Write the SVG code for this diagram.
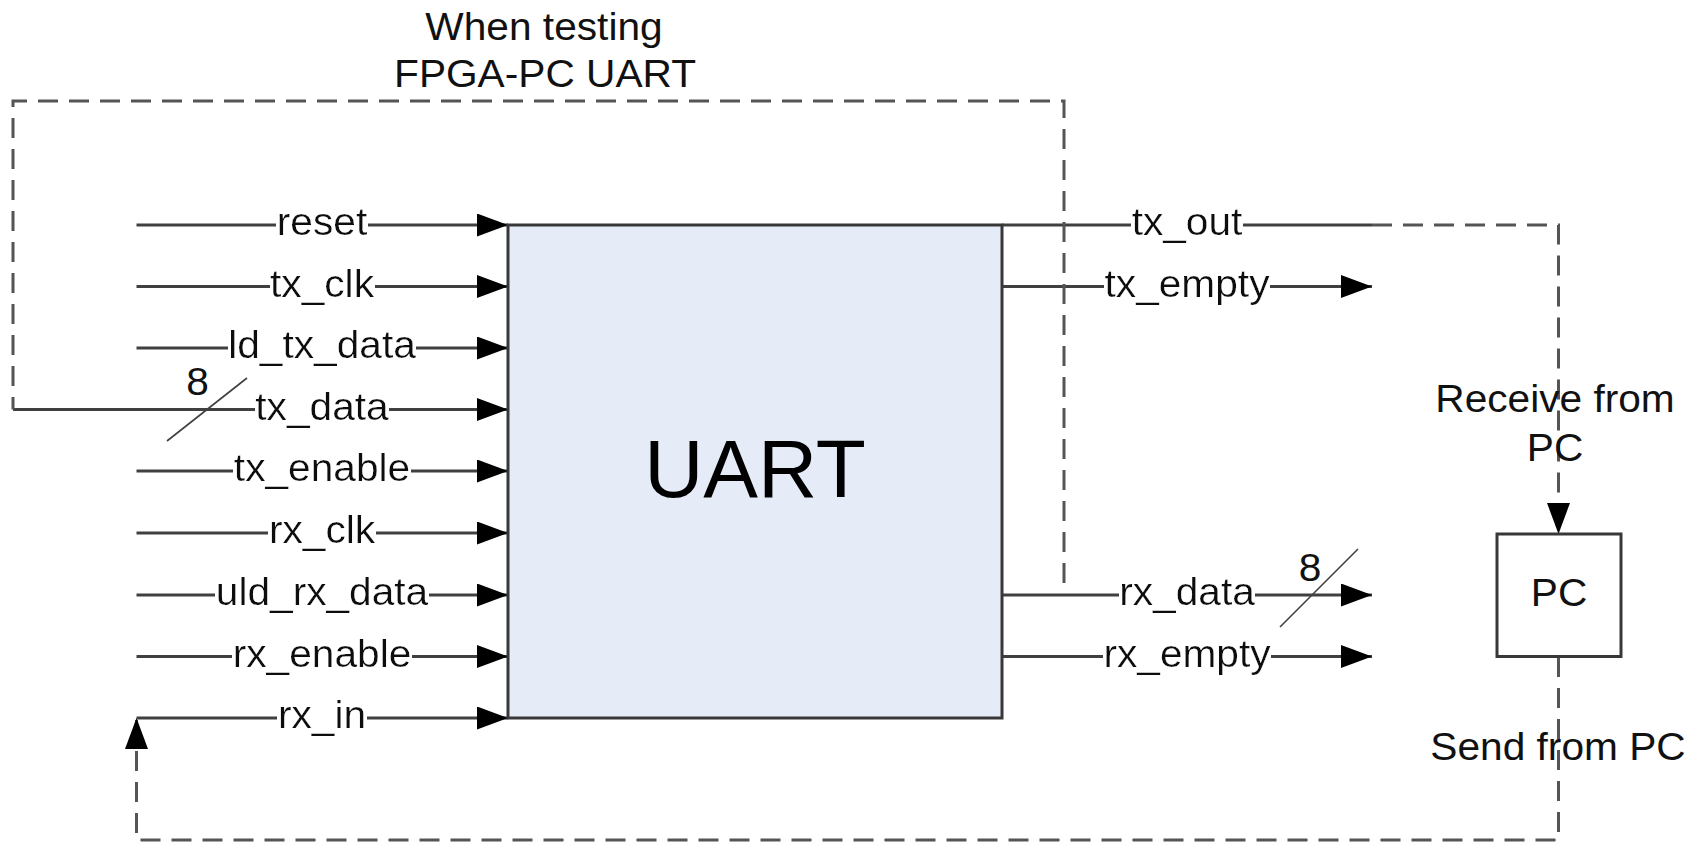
<svg xmlns="http://www.w3.org/2000/svg" width="1703" height="842" viewBox="0 0 1703 842">
  <style>
    .wire { fill: none; stroke: #404040; stroke-width: 3; }
    .dash { fill: none; stroke: #555555; stroke-width: 3; stroke-dasharray: 20 11; }
    .slash { fill: none; stroke: #404040; stroke-width: 1.6; }
    .box { stroke: #383838; stroke-width: 3; }
    .t { font-family: "Liberation Sans", Arial, sans-serif; font-size: 38px; fill: #111111; text-anchor: middle; }
    .big { font-family: "Liberation Sans", Arial, sans-serif; font-size: 82px; fill: #000000; text-anchor: middle; }
    .ko { filter: url(#ko); }
  </style>
  <defs>
    <marker id="arr" viewBox="0 0 31 23" refX="31" refY="11.5" markerWidth="31" markerHeight="23" markerUnits="userSpaceOnUse" orient="auto">
      <path d="M0,0 L31,11.5 L0,23 Z" fill="#000000"/>
    </marker>
    <filter id="ko" x="0" y="0" width="1" height="1">
      <feFlood flood-color="#ffffff" result="bg"/>
      <feComposite in="SourceGraphic" in2="bg" operator="over"/>
    </filter>
  </defs>
  <rect width="1703" height="842" fill="#ffffff"/>

  <g id="connectors">
    <!-- inputs -->
    <line class="wire" x1="136.5" y1="225" x2="508" y2="225" marker-end="url(#arr)"/>
    <line class="wire" x1="136.5" y1="286.5" x2="508" y2="286.5" marker-end="url(#arr)"/>
    <line class="wire" x1="136.5" y1="348" x2="508" y2="348" marker-end="url(#arr)"/>
    <line class="wire" x1="13" y1="409.5" x2="508" y2="409.5" marker-end="url(#arr)"/>
    <line class="wire" x1="136.5" y1="471" x2="508" y2="471" marker-end="url(#arr)"/>
    <line class="wire" x1="136.5" y1="533" x2="508" y2="533" marker-end="url(#arr)"/>
    <line class="wire" x1="136.5" y1="595" x2="508" y2="595" marker-end="url(#arr)"/>
    <line class="wire" x1="136.5" y1="656.5" x2="508" y2="656.5" marker-end="url(#arr)"/>
    <line class="wire" x1="136.5" y1="718" x2="508" y2="718" marker-end="url(#arr)"/>
    <!-- outputs -->
    <line class="wire" x1="1002" y1="225" x2="1372" y2="225"/>
    <line class="wire" x1="1002" y1="286.5" x2="1372" y2="286.5" marker-end="url(#arr)"/>
    <line class="wire" x1="1002" y1="595" x2="1372" y2="595" marker-end="url(#arr)"/>
    <line class="wire" x1="1002" y1="656.5" x2="1372" y2="656.5" marker-end="url(#arr)"/>
    <!-- bus slashes -->
    <line class="slash" x1="167" y1="441" x2="247" y2="378"/>
    <line class="slash" x1="1280" y1="627" x2="1358" y2="549"/>
    <!-- dashed loops -->
    <path class="dash" d="M1064,583 V101 H13 V409.5"/>
    <path class="dash" d="M1372,225 H1558.5 V534" marker-end="url(#arr)"/>
    <path class="dash" d="M1558.5,657 V840 H136.5 V718" marker-end="url(#arr)"/>

    <!-- signal labels -->
    <text class="t ko" transform="translate(322,235) scale(1.07,1)">reset</text>
    <text class="t ko" transform="translate(322,296.5) scale(1.07,1)">tx_clk</text>
    <text class="t ko" transform="translate(322,358) scale(1.07,1)">ld_tx_data</text>
    <text class="t ko" transform="translate(322,419.5) scale(1.07,1)">tx_data</text>
    <text class="t ko" transform="translate(322,481) scale(1.07,1)">tx_enable</text>
    <text class="t ko" transform="translate(322,543) scale(1.07,1)">rx_clk</text>
    <text class="t ko" transform="translate(322,605) scale(1.07,1)">uld_rx_data</text>
    <text class="t ko" transform="translate(322,666.5) scale(1.07,1)">rx_enable</text>
    <text class="t ko" transform="translate(322,728) scale(1.07,1)">rx_in</text>
    <text class="t ko" transform="translate(1187,235) scale(1.07,1)">tx_out</text>
    <text class="t ko" transform="translate(1187,296.5) scale(1.07,1)">tx_empty</text>
    <text class="t ko" transform="translate(1187,605) scale(1.07,1)">rx_data</text>
    <text class="t ko" transform="translate(1187,666.5) scale(1.07,1)">rx_empty</text>
    <text class="t" transform="translate(197.5,395) scale(1.07,1)">8</text>
    <text class="t" transform="translate(1310,581) scale(1.07,1)">8</text>
  </g>

  <g id="uart">
    <rect class="box" x="508" y="225" width="494" height="493" fill="#e5ecf7"/>
    <text class="big" x="755" y="497">UART</text>
  </g>

  <g id="pc">
    <rect class="box" x="1497" y="534" width="124" height="122.5" fill="#ffffff"/>
    <text class="t" transform="translate(1559,605.5) scale(1.07,1)">PC</text>
  </g>

  <g id="annotations">
    <text class="t" transform="translate(544,40) scale(1.07,1)">When testing</text>
    <text class="t" transform="translate(545,87) scale(1.07,1)">FPGA-PC UART</text>
    <text class="t" transform="translate(1555,411.5) scale(1.07,1)">Receive from</text>
    <text class="t" transform="translate(1555,460.5) scale(1.07,1)">PC</text>
    <text class="t" transform="translate(1558,760) scale(1.07,1)">Send from PC</text>
  </g>
</svg>
